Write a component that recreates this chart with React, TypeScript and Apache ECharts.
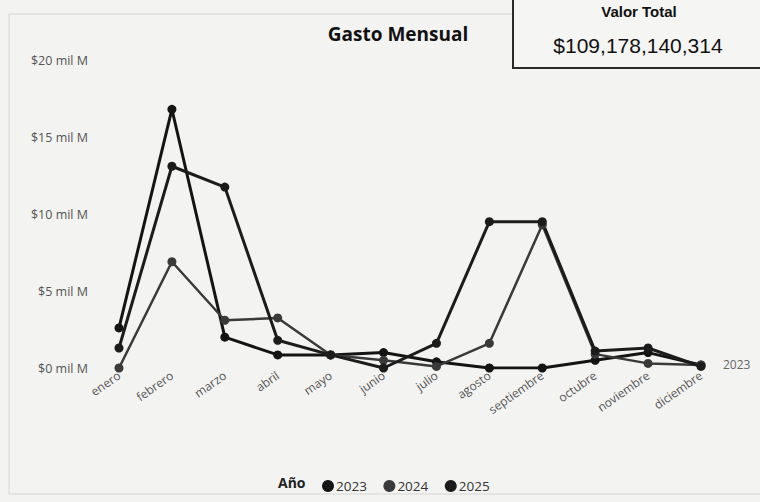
import React, { useEffect, useRef } from "react";
import * as echarts from "echarts";

const months = ["enero", "febrero", "marzo", "abril", "mayo", "junio", "julio", "agosto", "septiembre", "octubre", "noviembre", "diciembre"];
const years = ["2023", "2024", "2025"];
// values in "mil M" (thousands of millions)
const values2023 = [2.6, 16.8, 2.0, 0.85, 0.85, 1.0, 0.4, 0.0, 0.0, 0.5, 1.0, 0.2];
const values2024 = [0.0, 6.9, 3.1, 3.25, 0.85, 0.5, 0.1, 1.6, 9.3, 0.9, 0.3, 0.2];
const values2025 = [1.3, 13.1, 11.75, 1.8, 0.85, 0.0, 1.6, 9.5, 9.5, 1.1, 1.3, 0.1];
const yTicks = [0, 5, 10, 15, 20];
const totalLabel = "$109,178,140,314";

export default function App() {
  const ref = useRef<HTMLDivElement>(null);
  useEffect(() => {
    if (!ref.current) return;
    const chart = echarts.init(ref.current, null, { renderer: "svg" });
    const colors = ["#141414", "#3a3a3a", "#1c1c1c"];
    const dataSets = [values2023, values2024, values2025];
    const widths = [3, 2.5, 3];
    chart.setOption({
      animation: false,
      backgroundColor: "#f3f3f1",
      color: colors,
      title: {
        text: "Gasto Mensual",
        left: 393,
        top: 19,
        textAlign: "center",
        textStyle: { fontFamily: "Open Sans", fontSize: 19, fontWeight: "bold", color: "#111" },
      },
      graphic: [
        {
          type: "rect",
          shape: { x: 9, y: 14, width: 760, height: 480 },
          style: { fill: "none", stroke: "#d6d6d4", lineWidth: 1 },
          silent: true,
        },
        {
          type: "rect",
          shape: { x: 513, y: -3, width: 252, height: 71 },
          style: { fill: "#f5f5f4", stroke: "#2a2a2a", lineWidth: 2 },
        },
        {
          type: "text",
          x: 639,
          y: 11,
          style: { text: "Valor Total", fontFamily: "Liberation Sans", fontSize: 15, fontWeight: "bold", fill: "#111", textAlign: "center", textVerticalAlign: "middle" },
        },
        {
          type: "text",
          x: 638,
          y: 45,
          style: { text: totalLabel, fontFamily: "Liberation Sans", fontSize: 21, fill: "#111", textAlign: "center", textVerticalAlign: "middle" },
        },
        {
          type: "text",
          x: 278,
          y: 482,
          style: { text: "Año", fontFamily: "Open Sans", fontSize: 14, fontWeight: "bold", fill: "#222", textVerticalAlign: "middle" },
        },
      ],
      legend: {
        data: years,
        left: 317,
        top: 474,
        icon: "circle",
        itemWidth: 12,
        itemHeight: 12,
        itemGap: 16.5,
        textStyle: { fontFamily: "Open Sans", fontSize: 13.5, color: "#333", padding: [0, 0, 0, -3] },
      },
      grid: { left: 119, right: 59, top: 60, bottom: 134 },
      xAxis: {
        type: "category",
        data: months,
        boundaryGap: false,
        axisLine: { show: false },
        axisTick: { show: false },
        axisLabel: {
          rotate: 35,
          interval: 0,
          margin: 6,
          fontFamily: "Open Sans",
          fontSize: 12,
          color: "#555",
        },
      },
      yAxis: {
        type: "value",
        min: yTicks[0],
        max: yTicks[yTicks.length - 1],
        interval: 5,
        splitLine: { show: false },
        axisLine: { show: false },
        axisTick: { show: false },
        axisLabel: {
          margin: 31,
          fontFamily: "Open Sans",
          fontSize: 12.5,
          color: "#555",
          formatter: (v: number) => `$${v} mil M`,
        },
      },
      series: years.map((y, i) => ({
        name: y,
        type: "line",
        data: dataSets[i],
        symbol: "circle",
        symbolSize: 9,
        lineStyle: { width: widths[i], color: colors[i] },
        itemStyle: { color: colors[i] },
        endLabel: i === 0
          ? { show: true, formatter: () => "2023", distance: 22, color: "#666", fontFamily: "Open Sans", fontSize: 12 }
          : { show: false },
      })),
    });
    return () => chart.dispose();
  }, []);
  return <div ref={ref} style={{ width: 760, height: 502, position: "absolute", left: 0, top: 0 }} />;
}
